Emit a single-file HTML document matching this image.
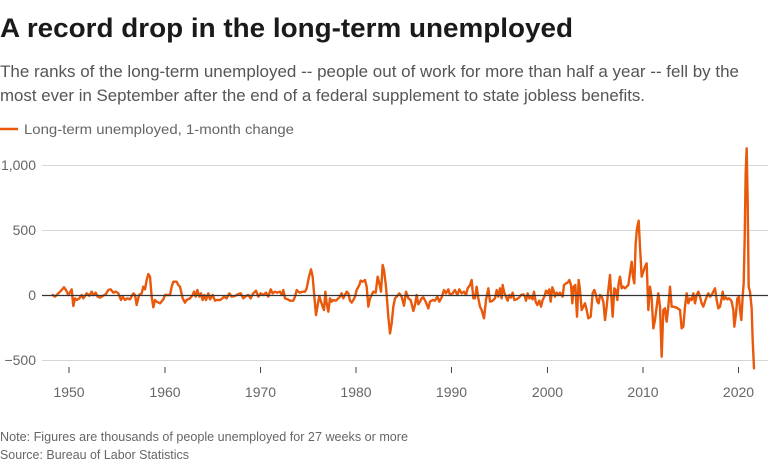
<!DOCTYPE html>
<html>
<head>
<meta charset="utf-8">
<style>
html,body{margin:0;padding:0;background:#fff;}
svg{display:block;}
text{font-family:"Liberation Sans",sans-serif;}
</style>
</head>
<body>
<svg width="768" height="465" viewBox="0 0 768 465" xmlns="http://www.w3.org/2000/svg">
  <rect width="768" height="465" fill="#fff"/>
  <!-- Title -->
  <text x="0" y="37" font-size="27" font-weight="bold" fill="#1a1a1a" textLength="573" lengthAdjust="spacingAndGlyphs">A record drop in the long-term unemployed</text>
  <!-- Subtitle -->
  <text x="0" y="77" font-size="17" fill="#555" textLength="739" lengthAdjust="spacingAndGlyphs">The ranks of the long-term unemployed -- people out of work for more than half a year -- fell by the</text>
  <text x="0" y="101" font-size="17" fill="#555" textLength="645" lengthAdjust="spacingAndGlyphs">most ever in September after the end of a federal supplement to state jobless benefits.</text>
  <!-- Legend -->
  <line x1="0" y1="129" x2="18" y2="129" stroke="#e8590c" stroke-width="2.5"/>
  <text x="24" y="134" font-size="14" fill="#666" textLength="270" lengthAdjust="spacingAndGlyphs">Long-term unemployed, 1-month change</text>

  <!-- Gridlines -->
  <g stroke="#d6d6d6" stroke-width="1">
    <line x1="42" y1="165.5" x2="768" y2="165.5"/>
    <line x1="42" y1="230.5" x2="768" y2="230.5"/>
    <line x1="42" y1="360.5" x2="768" y2="360.5"/>
  </g>
  <!-- Y labels -->
  <g font-size="14" fill="#666" text-anchor="end">
    <text x="36" y="170">1,000</text>
    <text x="36" y="235">500</text>
    <text x="36" y="300">0</text>
    <text x="36" y="365">−500</text>
  </g>
  <!-- X ticks -->
  <g stroke="#444" stroke-width="1">
    <line x1="69" y1="367" x2="69" y2="373"/>
    <line x1="165" y1="367" x2="165" y2="373"/>
    <line x1="260.5" y1="367" x2="260.5" y2="373"/>
    <line x1="356" y1="367" x2="356" y2="373"/>
    <line x1="451.5" y1="367" x2="451.5" y2="373"/>
    <line x1="547.5" y1="367" x2="547.5" y2="373"/>
    <line x1="643" y1="367" x2="643" y2="373"/>
    <line x1="738.5" y1="367" x2="738.5" y2="373"/>
  </g>
  <g font-size="14" fill="#666" text-anchor="middle">
    <text x="69" y="397">1950</text>
    <text x="165" y="397">1960</text>
    <text x="260.5" y="397">1970</text>
    <text x="356" y="397">1980</text>
    <text x="451.5" y="397">1990</text>
    <text x="547.5" y="397">2000</text>
    <text x="643" y="397">2010</text>
    <text x="738.5" y="397">2020</text>
  </g>

  <!-- Series -->
  <g fill="none" stroke="#e8590c" stroke-width="2.4" stroke-linejoin="round" stroke-linecap="round">
    <polyline vector-effect="non-scaling-stroke" transform="translate(40,230) scale(0.33333)" points="38,195 45,200 55,190 65,180 72,172 78,180 85,195 90,187 95,178 100,228 105,205 110,210 118,205 125,195 130,205 140,190 148,197 155,185 160,195 167,188 173,200 180,203 188,198 197,193 205,180 212,178 220,188 228,185 235,190 243,210 248,200 255,210 262,205 270,208 280,190 285,195 290,225 297,195 305,190 310,170 315,178 320,150 325,132 330,140 335,200 340,232 345,210 350,215 360,220 370,208 375,195 385,195 390,195 395,170 400,155 410,155 415,165 420,170 428,205 435,218 440,210 450,205 458,195 462,185 467,200 472,180 478,200 483,190 488,210 493,195 498,210 505,190 510,208 518,195 525,212 530,210 540,210"/>
    <polyline vector-effect="non-scaling-stroke" transform="translate(210,230) scale(0.33333)" points="30,210 35,207 42,200 50,205 58,190 65,200 75,198 85,192 92,190 100,205 108,198 115,195 122,205 130,190 138,182 145,200 152,190 160,195 168,188 175,200 182,178 188,190 195,185 202,188 210,185 216,195 220,180 225,205 233,208 240,212 250,212 255,200 260,180 265,185 270,188 278,185 285,185 290,175 297,140 303,118 308,140 313,200 318,255 323,225 328,198 333,215 338,230 342,240 346,185 350,220 355,245 360,205 365,215 370,210 378,212 385,205 390,200 395,190 400,205 405,195 410,185 415,190 420,212 425,218 430,210 435,200 440,180 448,165 452,152 458,155 465,150 470,170 475,230 480,205 485,195 490,185 497,188 503,140 508,160 513,185 518,105 522,120 528,170 535,260 540,310"/>
    <polyline vector-effect="non-scaling-stroke" transform="translate(380,240) scale(0.33333)" points="30,280 35,250 40,200 45,175 50,170 58,160 65,170 72,197 78,155 85,175 92,180 100,213 105,195 110,165 115,193 120,185 125,175 130,172 137,185 145,205 150,185 158,180 165,182 172,170 178,185 185,172 192,150 198,160 205,148 210,165 218,160 225,150 232,165 238,148 245,160 252,155 258,165 263,145 270,135 275,120 280,175 285,175 290,140 295,175 300,200 305,210 312,235 318,180 325,145 330,185 337,183 345,175 350,150 355,170 360,145 365,175 368,135 372,155 378,170 383,182 388,165 393,173 398,158 403,180 410,178 418,172 423,165 430,163 435,170 438,182 443,160 448,175 452,170 458,178 462,155 467,185 472,195 478,182 483,200 488,180 493,170 498,152 503,160 508,148 512,185 517,142 521,152 525,170 530,158 535,165 540,158"/>
    <polyline vector-effect="non-scaling-stroke" transform="translate(540,200) scale(0.33333)" points="60,278 62,280 68,290 72,255 78,250 83,248 88,240 93,255 97,310 101,260 106,255 111,350 116,240 120,270 125,330 130,320 135,310 140,330 145,355 152,350 158,280 163,270 168,285 172,305 176,310 180,285 185,290 190,305 195,360 200,320 205,270 210,225 214,290 218,350 223,265 228,270 232,300 236,250 240,230 245,265 250,260 255,265 260,260 265,255 270,220 275,185 279,230 283,250 287,130 291,85 296,62 300,140 305,230 310,215 315,200 320,190 325,330 330,260 335,295 340,385 345,360 350,320"/>
    <polyline vector-effect="non-scaling-stroke" transform="translate(650,140) scale(0.33333)" points="20,500 25,460 30,500 35,650 40,510 45,505 50,545 55,500 60,440 65,500 70,500 80,503 90,510 95,565 100,560 105,500 110,460 115,490 120,475 125,480 130,460 135,490 140,465 145,455 150,470 155,490 160,500 165,485 170,470 175,460 180,470 185,465 190,455 195,445 200,480 205,505 210,500 215,475 218,455 222,478 227,472 232,478 237,475 242,480 245,485 250,510 253,560 258,520 262,475 267,470 270,510 274,540 278,470 281,430 284,300 287,100 290,25 293,180 296,440 300,455 305,505 308,600 312,685"/>
  </g>
  <!-- Zero line -->
  <line x1="42" y1="295.5" x2="768" y2="295.5" stroke="#333" stroke-width="1.3"/>

  <!-- Notes -->
  <text x="0" y="441" font-size="13" fill="#666" textLength="408" lengthAdjust="spacingAndGlyphs">Note: Figures are thousands of people unemployed for 27 weeks or more</text>
  <text x="0" y="459" font-size="13" fill="#666" textLength="189" lengthAdjust="spacingAndGlyphs">Source: Bureau of Labor Statistics</text>
</svg>
</body>
</html>
